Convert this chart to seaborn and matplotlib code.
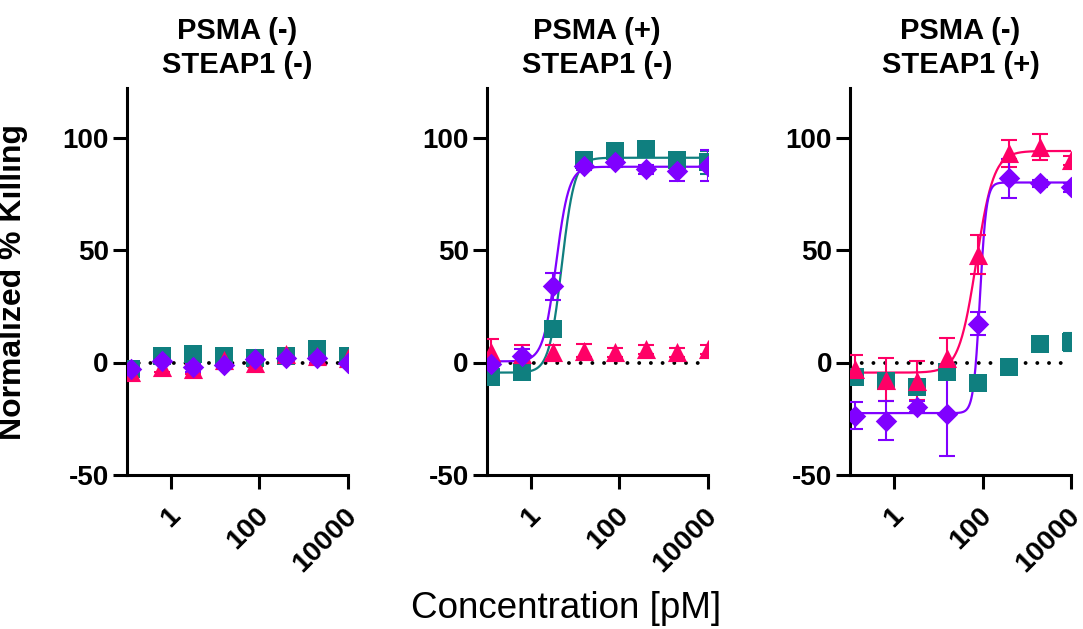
import numpy as np
import pandas as pd
import matplotlib
matplotlib.use("Agg")
import matplotlib.pyplot as plt
import matplotlib.transforms as mtransforms
import seaborn as sns

sns.set_style("ticks")
plt.rcParams['font.family'] = ['Liberation Sans', 'DejaVu Sans']
for k in ["text.color", "axes.labelcolor", "xtick.color", "ytick.color", "axes.edgecolor"]:
    plt.rcParams[k] = "black"

# ---------------- data ----------------
conc = [0.128, 0.64, 3.2, 16, 80, 400, 2000, 10000]  # pM
series = ["A", "B", "C"]  # teal square, pink triangle, purple diamond
panel_titles = ["PSMA (-)\nSTEAP1 (-)", "PSMA (+)\nSTEAP1 (-)", "PSMA (-)\nSTEAP1 (+)"]

# panel 1
p1_teal = [-3, 3, 4, 3, 2, 3, 6, 3]
p1_pink = [-4, -2, -3, 1, 0, 4, 3, 2]
p1_purple = [-3, 0.5, -2, -1, 1.5, 2, 2, 0]
p1_teal_err = [1, 1, 1, 1, 1, 1, 1, 1]
p1_pink_err = [2, 2, 2, 2, 2, 2, 2, 2]
p1_purple_err = [2, 1, 2, 2, 2, 2, 2, 2]

# panel 2
p2_teal = [-6.5, -4, 15, 90, 94, 95, 90, 89]
p2_pink = [4.5, 4, 4.6, 5.3, 4.6, 6, 4.6, 6]
p2_purple = [-0.5, 3, 34, 87.5, 89, 86, 85.3, 87.5]
p2_teal_err = [2, 1, 2, 2, 1, 1, 2, 5]
p2_pink_err = [6, 4, 3, 3, 2, 2, 2, 2]
p2_purple_err = [2, 3, 6, 2, 2, 2, 4.5, 7]

# panel 3
p3_teal = [-6.5, -8, -11, -4.3, -9.2, -2, 8.4, 9]
p3_pink = [-2.7, -7.6, -8, 1.8, 48, 93, 95.7, 90]
p3_purple = [-23.6, -25.8, -19.6, -22.7, 17.3, 81.8, 79.7, 78]
p3_teal_err = [2, 2, 2, 2, 2, 1, 1, 4]
p3_pink_err = [6, 9.5, 8.5, 9, 8.7, 6, 5.7, 2]
p3_purple_err = [6, 8.5, 2.5, 19, 5, 8.5, 1.5, 2]

# 4-parameter logistic fit parameters (bottom, top, EC50, hill) per panel/series
fit_p2_teal = (-4.5, 91, 5.0, 3.0)
fit_p2_purple = (0.5, 87, 3.7, 3.0)
fit_p3_pink = (-4.5, 94, 72, 2.2)
fit_p3_purple = (-22.5, 80, 87, 6.0)

colors = {"A": "#0F7F7F", "B": "#FF0066", "C": "#8000FF"}
markers = {"A": "s", "B": "^", "C": "D"}
msizes = {"A": 150, "B": 190, "C": 120}

panels = [
    ({"A": p1_teal, "B": p1_pink, "C": p1_purple},
     {"A": p1_teal_err, "B": p1_pink_err, "C": p1_purple_err}, {}),
    ({"A": p2_teal, "B": p2_pink, "C": p2_purple},
     {"A": p2_teal_err, "B": p2_pink_err, "C": p2_purple_err},
     {"A": fit_p2_teal, "C": fit_p2_purple}),
    ({"A": p3_teal, "B": p3_pink, "C": p3_purple},
     {"A": p3_teal_err, "B": p3_pink_err, "C": p3_purple_err},
     {"B": fit_p3_pink, "C": fit_p3_purple}),
]


def four_pl(x, bottom, top, ec50, hill):
    return bottom + (top - bottom) / (1 + (ec50 / x) ** hill)


W, H = 1083, 629
fig = plt.figure(figsize=(W / 100, H / 100), dpi=100)
lefts = [126.7, 486.7, 850]
ax_w = 221
top_px, bot_px = 88, 475

SPW = 2.2
for i, (vals, errs, fits) in enumerate(panels):
    ax = fig.add_axes([lefts[i] / W, 1 - bot_px / H, ax_w / W, (bot_px - top_px) / H])
    ax.set_xscale("log")
    ax.set_xlim(0.1, 10000)
    ax.set_ylim(-50, 122)

    # zero reference line
    ax.axhline(0, color="black", lw=2.8, linestyle=(0, (0.01, 3.0)),
               dash_capstyle="round", zorder=1)

    # fitted curves
    xs = np.logspace(-1, 4, 600)
    for key, p in fits.items():
        dfc = pd.DataFrame({"x": xs, "y": four_pl(xs, *p)})
        sns.lineplot(data=dfc, x="x", y="y", color=colors[key], lw=1.6, ax=ax,
                     zorder=2, legend=False)

    # error bars
    for key in series:
        ax.errorbar(conc, vals[key], yerr=errs[key], fmt="none", ecolor=colors[key],
                    elinewidth=1.5, capsize=6, capthick=1.5, zorder=3)

    # markers
    rows = []
    for key in series:
        for c, v in zip(conc, vals[key]):
            rows.append({"conc": c, "val": v, "series": key})
    df = pd.DataFrame(rows)
    for key in series:
        sub = df[df.series == key]
        sns.scatterplot(data=sub, x="conc", y="val", color=colors[key],
                        marker=markers[key], s=msizes[key], linewidth=0,
                        ax=ax, zorder=4, legend=False)

    sns.despine(ax=ax)
    for sp in ["left", "bottom"]:
        ax.spines[sp].set_linewidth(SPW)
    ax.set_xticks([1, 100, 10000])
    ax.set_xticklabels(["1", "100", "10000"])
    ax.xaxis.set_minor_locator(matplotlib.ticker.NullLocator())
    ax.set_yticks([-50, 0, 50, 100])
    ax.set_yticklabels(["-50", "0", "50", "100"])
    ax.tick_params(axis="both", length=10, width=SPW, color="black")
    ax.tick_params(axis="y", labelsize=20, pad=3)
    ax.tick_params(axis="x", labelsize=20.5, pad=10)
    for lab in ax.get_yticklabels():
        lab.set_fontweight("bold")
    offset = mtransforms.ScaledTranslation(-4 / 100, 0, fig.dpi_scale_trans)
    for lab in ax.get_xticklabels():
        lab.set_fontweight("bold")
        lab.set_rotation(45)
        lab.set_ha("right")
        lab.set_va("top")
        lab.set_rotation_mode("anchor")
        lab.set_transform(lab.get_transform() + offset)
    ax.set_xlabel("")
    ax.set_ylabel("")
    ax.set_title(panel_titles[i], fontsize=21, fontweight="bold", pad=11,
                 linespacing=1.25)
    if i == 0:
        ax.set_ylabel("Normalized % Killing", fontsize=23, fontweight="bold")
        ax.yaxis.set_label_coords(-(126.7 - 28) / ax_w, 0.5)

fig.text(566 / W, 1 - 608 / H, "Concentration [pM]", fontsize=26.5,
         ha="center", va="center")

fig.savefig("out.png", dpi=100)
